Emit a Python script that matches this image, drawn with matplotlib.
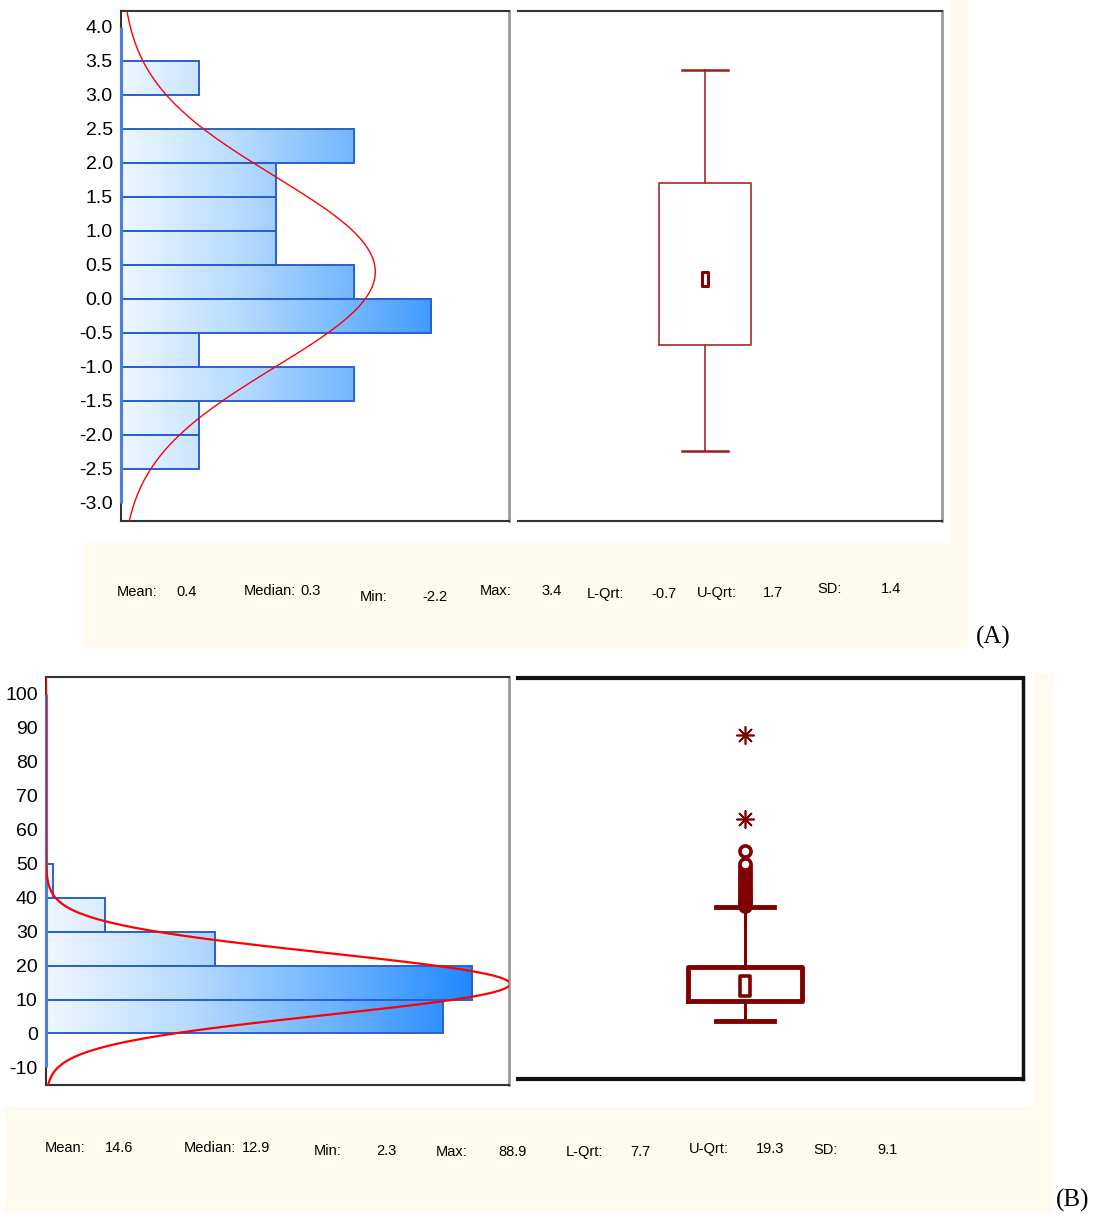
import numpy as np
import matplotlib
matplotlib.use("Agg")
import matplotlib.pyplot as plt
from matplotlib.patches import Rectangle
from matplotlib.colors import LinearSegmentedColormap
from matplotlib.path import Path

# ---------------- data ----------------
# Panel A histogram (bins of 0.5)
a_bin_lo = [-2.5, -2.0, -1.5, -1.0, -0.5, 0.0, 0.5, 1.0, 1.5, 2.0, 2.5, 3.0]
a_counts = [1, 1, 3, 1, 4, 3, 2, 2, 2, 3, 0, 1]
a_bw = 0.5
a_ticks = [-3.0, -2.5, -2.0, -1.5, -1.0, -0.5, 0.0, 0.5, 1.0, 1.5, 2.0, 2.5, 3.0, 3.5, 4.0]
a_box = dict(whislo=-2.24, q1=-0.68, med=0.29, q3=1.70, whishi=3.37)
a_stat_names = ["Mean:", "Median:", "Min:", "Max:", "L-Qrt:", "U-Qrt:", "SD:"]
a_stat_vals = ["0.4", "0.3", "-2.2", "3.4", "-0.7", "1.7", "1.4"]
a_mean, a_sd = 0.4, 1.4

# Panel B histogram (bins of 10)
b_bin_lo = [0, 10, 20, 30, 40]
b_counts = [54, 58, 23, 8, 1]
b_bw = 10
b_ticks = [-10, 0, 10, 20, 30, 40, 50, 60, 70, 80, 90, 100]
b_box = dict(whislo=3.6, q1=9.7, med=14.0, q3=19.7, whishi=37.2)
b_out_circles = [37.6, 38.2, 38.8, 39.4, 40.0, 40.6, 41.3, 42.0, 42.8, 43.6,
                 44.5, 45.4, 46.3, 47.2, 48.1, 49.0, 50.0, 53.8]
b_out_stars = [63.2, 87.9]
b_stat_names = ["Mean:", "Median:", "Min:", "Max:", "L-Qrt:", "U-Qrt:", "SD:"]
b_stat_vals = ["14.6", "12.9", "2.3", "88.9", "7.7", "19.3", "9.1"]
b_mean, b_sd = 14.6, 9.1

# ---------------- layout ----------------
W, H = 1102, 1218
fig = plt.figure(figsize=(W / 100, H / 100), dpi=100)
fig.patch.set_facecolor("white")

CREAM = "#fffaef"
NARROW = ["Liberation Sans", "DejaVu Sans"]
SERIF = ["Liberation Serif", "DejaVu Serif"]


def frect(l, t, r, b):
    return [l / W, 1 - b / H, (r - l) / W, (b - t) / H]


def fig_rect(l, t, r, b, color, z):
    x, y, w, h = frect(l, t, r, b)
    fig.add_artist(Rectangle((x, y), w, h, transform=fig.transFigure,
                             facecolor=color, edgecolor="none", zorder=z))


# cream backgrounds with white plot areas
fig_rect(84, 0, 968, 648, CREAM, -10)
fig_rect(84, 0, 951, 543, "white", -9)
fig_rect(5, 673, 1053, 1212, CREAM, -10)
fig_rect(5, 673, 1034, 1107, "white", -9)

cmap = LinearSegmentedColormap.from_list(
    "grad", [(0.0, "#eef7ff"), (0.3, "#b8dcff"), (0.7, "#5aa9ff"), (1.0, "#0a7dff")])


def hist_panel(ax, lo, counts, bw, xmax, ylim, ticks, fmt, mean, sd, blue_lo, blue_hi, curve_lw):
    n = sum(counts)
    for y0, c in zip(lo, counts):
        if c <= 0:
            continue
        grad = np.linspace(0, c / xmax, 256).reshape(1, -1)
        ax.imshow(grad, extent=[0, c, y0, y0 + bw], cmap=cmap, vmin=0, vmax=1,
                  aspect="auto", origin="lower", zorder=1, interpolation="bilinear")
        ax.add_patch(Rectangle((0, y0), c, bw, facecolor="none",
                               edgecolor="#2a5fcf", lw=1.4, zorder=2))
    yy = np.linspace(ylim[0], ylim[1], 600)
    xx = n * bw * np.exp(-0.5 * ((yy - mean) / sd) ** 2) / (sd * np.sqrt(2 * np.pi))
    ax.plot(xx, yy, color="#ff0000", lw=curve_lw, zorder=4)
    ax.set_xlim(0, xmax)
    ax.set_ylim(*ylim)
    ax.set_yticks(ticks)
    ax.set_yticklabels([fmt.format(t) for t in ticks], family=NARROW, fontsize=14)
    ax.set_xticks([])
    ax.tick_params(axis="y", length=0, pad=6)
    for s in ["top", "bottom"]:
        ax.spines[s].set_color("#333333")
        ax.spines[s].set_linewidth(1.5)
    ax.spines["right"].set_color("#9a9a9a")
    ax.spines["right"].set_linewidth(2)
    ax.spines["left"].set_color("#333333")
    ax.spines["left"].set_linewidth(1.5)
    ax.plot([0, 0], [blue_lo, blue_hi], color="#4d7fd8", lw=2.2, zorder=3,
            clip_on=False, solid_capstyle="butt")


# ---- Panel A ----
a_ylim = (-3.265, 4.235)
axA = fig.add_axes(frect(121, 11, 509, 521))
hist_panel(axA, a_bin_lo, a_counts, a_bw, 5.0, a_ylim, a_ticks, "{:.1f}",
           a_mean, a_sd, -3.0, 4.0, 1.0)

rect_marker = Path([(-0.5, -1), (0.5, -1), (0.5, 1), (-0.5, 1), (-0.5, -1)],
                   [Path.MOVETO, Path.LINETO, Path.LINETO, Path.LINETO, Path.CLOSEPOLY])

bxA = fig.add_axes(frect(518, 11, 942, 521))
ca = "#a83a3a"
sA = dict(a_box, fliers=[])
bxA.bxp([sA], positions=[0.441], widths=0.217, capwidths=0.108, manage_ticks=False,
        boxprops=dict(color=ca, lw=1.3), whiskerprops=dict(color=ca, lw=1.3),
        capprops=dict(color="#9a1f1f", lw=1.8), medianprops=dict(lw=0))
bxA.plot([0.441], [a_box["med"]], marker=rect_marker, ms=10, mfc="white",
         mec="#8b0000", mew=2.2, ls="none")
bxA.set_xlim(0, 1)
bxA.set_ylim(*a_ylim)
bxA.set_xticks([])
bxA.set_yticks([])
bxA.spines["left"].set_visible(False)
for s in ["top", "bottom"]:
    bxA.spines[s].set_color("#333333")
    bxA.spines[s].set_linewidth(1.5)
bxA.spines["right"].set_color("#9a9a9a")
bxA.spines["right"].set_linewidth(2)

# ---- Panel B ----
b_ylim = (-15.17, 105.0)
axB = fig.add_axes(frect(46, 677, 509, 1085))
hist_panel(axB, b_bin_lo, b_counts, b_bw, 63.0, b_ylim, b_ticks, "{:d}",
           b_mean, b_sd, -10, 100, 1.6)

bxB = fig.add_axes(frect(518, 678, 1023, 1079))
cb = "#800000"
sB = dict(b_box, fliers=b_out_circles)
bxB.bxp([sB], positions=[0.4495], widths=0.224, capwidths=0.113, manage_ticks=False,
        boxprops=dict(color=cb, lw=3.5), whiskerprops=dict(color=cb, lw=2.2),
        capprops=dict(color=cb, lw=3.5), medianprops=dict(lw=0),
        flierprops=dict(marker="o", ms=8, mfc="white", mec=cb, mew=2.6))
bxB.plot([0.4495] * len(b_out_stars), b_out_stars, marker=(8, 2, 0), ms=13,
         mec=cb, mew=1.2, ls="none")
bxB.plot([0.4495], [b_box["med"]], marker=rect_marker, ms=14, mfc="white",
         mec=cb, mew=2.6, ls="none")
bxB.set_xlim(0, 1)
bxB.set_ylim(-13.4, 104.7)
bxB.set_xticks([])
bxB.set_yticks([])
bxB.spines["left"].set_visible(False)
for s in ["top", "bottom"]:
    bxB.spines[s].set_color("#111111")
    bxB.spines[s].set_linewidth(3)
bxB.spines["right"].set_color("#111111")
bxB.spines["right"].set_linewidth(2.5)

# ---- stats rows ----
STAT_FS = 10.5
a_name_x = [117, 244, 360, 480, 587, 697, 817]
a_val_x = [176, 300, 422, 541, 651, 763, 881]
a_row_y = [592, 591, 597, 591, 594, 593, 589]
for nm, v, xn, xv, yy in zip(a_stat_names, a_stat_vals, a_name_x, a_val_x, a_row_y):
    fig.text(xn / W, 1 - yy / H, nm, ha="left", va="center", family=NARROW, fontsize=STAT_FS)
    fig.text(xv / W, 1 - yy / H, v, ha="left", va="center", family=NARROW, fontsize=STAT_FS)

b_name_x = [45, 184, 314, 436, 566, 689, 813]
b_val_x = [105, 242, 376, 498, 630, 756, 877]
b_row_y = [1148, 1148, 1151, 1152, 1152, 1149, 1150]
for nm, v, xn, xv, yy in zip(b_stat_names, b_stat_vals, b_name_x, b_val_x, b_row_y):
    fig.text(xn / W, 1 - yy / H, nm, ha="left", va="center", family=NARROW, fontsize=STAT_FS)
    fig.text(xv / W, 1 - yy / H, v, ha="left", va="center", family=NARROW, fontsize=STAT_FS)

fig.text(993 / W, 1 - 637 / H, "(A)", ha="center", va="center", family=SERIF, fontsize=18)
fig.text(1073 / W, 1 - 1200 / H, "(B)", ha="center", va="center", family=SERIF, fontsize=18)

fig.savefig("out.png", dpi=100, facecolor="white")
